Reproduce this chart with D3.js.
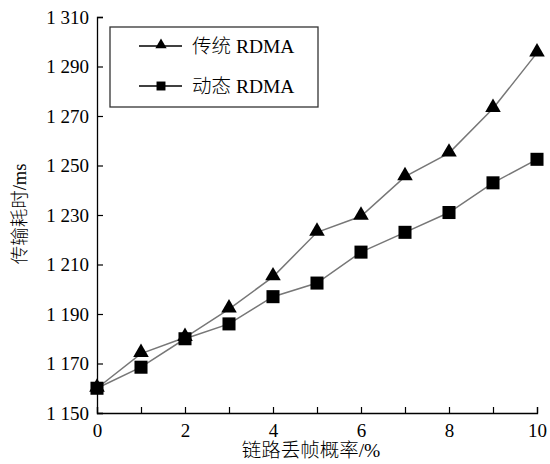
<!DOCTYPE html>
<html lang="zh">
<head>
    <meta charset="UTF-8">
    <title>传输耗时</title>
    <script src="https://d3js.org/d3.v7.min.js"></script>
    <style>
        body { margin: 0; padding: 0; background: white; }
        svg { display: block; }
        text { font-family: 'Liberation Serif', 'Times New Roman', 'Noto Sans CJK SC', serif; fill: #000; }
        .cjk { font-weight: 300; }
    </style>
</head>
<body>
    <svg width="550" height="464"></svg>
    <script>
        // data
        const lossRates = [0, 1, 2, 3, 4, 5, 6, 7, 8, 9, 10];
        const traditional = [1160, 1174, 1180.5, 1192, 1205, 1223, 1229.5, 1245.5, 1255, 1273, 1295.5];
        const dynamic = [1160, 1168.5, 1180, 1186, 1197, 1202.5, 1215, 1223, 1231, 1243, 1252.5];
        const xTickLabels = [0, 2, 4, 6, 8, 10];
        const yTickLabels = [1150, 1170, 1190, 1210, 1230, 1250, 1270, 1290, 1310];
        const seriesNames = ["传统 RDMA", "动态 RDMA"];

        const svg = d3.select("svg"),
              margin = {top: 17, right: 13, bottom: 51, left: 97},
              width = svg.attr("width") - margin.left - margin.right,
              height = svg.attr("height") - margin.top - margin.bottom,
              g = svg.append("g").attr("transform", `translate(${margin.left},${margin.top})`);

        const x = d3.scaleLinear().domain([0, 10]).range([0, width]),
              y = d3.scaleLinear().domain([1150, 1310]).range([height, 0]);

        const fmt = v => {
            const s = String(v);
            return s.length > 3 ? s.slice(0, s.length - 3) + " " + s.slice(-3) : s;
        };

        // x axis: ticks point inward (up)
        const xAxis = g.append("g")
            .attr("transform", `translate(0,${height})`)
            .call(d3.axisBottom(x).tickValues(lossRates).tickSize(-6).tickPadding(10)
                .tickFormat(d => xTickLabels.includes(d) ? d : ""));
        xAxis.select(".domain").attr("stroke", "#000").attr("stroke-width", 1.3);
        xAxis.selectAll(".tick line").attr("stroke", "#000").attr("stroke-width", 1.2);
        xAxis.selectAll(".tick text").attr("font-size", 19).attr("dy", "0.75em")
            .attr("font-family", "'Liberation Serif', serif");

        // y axis: ticks point inward (right)
        const yAxis = g.append("g")
            .call(d3.axisLeft(y).tickValues(yTickLabels).tickSize(-6).tickPadding(8).tickFormat(fmt));
        yAxis.select(".domain").attr("stroke", "#000").attr("stroke-width", 1.3);
        yAxis.selectAll(".tick line").attr("stroke", "#000").attr("stroke-width", 1.2);
        yAxis.selectAll(".tick text").attr("font-size", 19)
            .attr("font-family", "'Liberation Serif', serif");

        // axis titles
        svg.append("text")
            .attr("class", "cjk")
            .attr("x", 311)
            .attr("y", 457)
            .attr("text-anchor", "middle")
            .attr("font-size", 19.5)
            .text("链路丢帧概率/%");

        svg.append("text")
            .attr("class", "cjk")
            .attr("transform", "translate(26,214) rotate(-90)")
            .attr("text-anchor", "middle")
            .attr("font-size", 18.5)
            .text("传输耗时/ms");

        const line = d3.line()
            .x((d, i) => x(lossRates[i]))
            .y(d => y(d));

        const triangle = d3.symbol().type(d3.symbolTriangle).size(105);
        const square = d3.symbol().type(d3.symbolSquare).size(170);

        // traditional RDMA
        g.append("path")
            .datum(traditional)
            .attr("d", line)
            .attr("fill", "none")
            .attr("stroke", "#777")
            .attr("stroke-width", 1.5);

        // dynamic RDMA
        g.append("path")
            .datum(dynamic)
            .attr("d", line)
            .attr("fill", "none")
            .attr("stroke", "#777")
            .attr("stroke-width", 1.5);

        g.selectAll(".tri")
            .data(traditional)
            .enter().append("path")
            .attr("class", "tri")
            .attr("d", triangle)
            .attr("transform", (d, i) => `translate(${x(lossRates[i])},${y(d) - 1})`)
            .attr("fill", "#000");

        g.selectAll(".sq")
            .data(dynamic)
            .enter().append("path")
            .attr("class", "sq")
            .attr("d", square)
            .attr("transform", (d, i) => `translate(${x(lossRates[i])},${y(d)})`)
            .attr("fill", "#000");

        // legend
        const legend = svg.append("g");
        legend.append("rect")
            .attr("x", 110).attr("y", 27)
            .attr("width", 208).attr("height", 80)
            .attr("fill", "white")
            .attr("stroke", "#333")
            .attr("stroke-width", 1.3);

        const legendSymbols = [d3.symbol().type(d3.symbolTriangle).size(55), d3.symbol().type(d3.symbolSquare).size(80)];
        const legendY = [46, 86];
        seriesNames.forEach((name, i) => {
            legend.append("line")
                .attr("x1", 139).attr("x2", 182)
                .attr("y1", legendY[i]).attr("y2", legendY[i])
                .attr("stroke", "#000").attr("stroke-width", 1.3);
            legend.append("path")
                .attr("d", legendSymbols[i])
                .attr("transform", `translate(161,${legendY[i] - (i === 0 ? 1 : 0)})`)
                .attr("fill", "#000");
            legend.append("text")
                .attr("class", "cjk")
                .attr("x", 192).attr("y", legendY[i])
                .attr("dy", "0.35em")
                .attr("font-size", 19.5)
                .text(name);
        });
    </script>
</body>
</html>
